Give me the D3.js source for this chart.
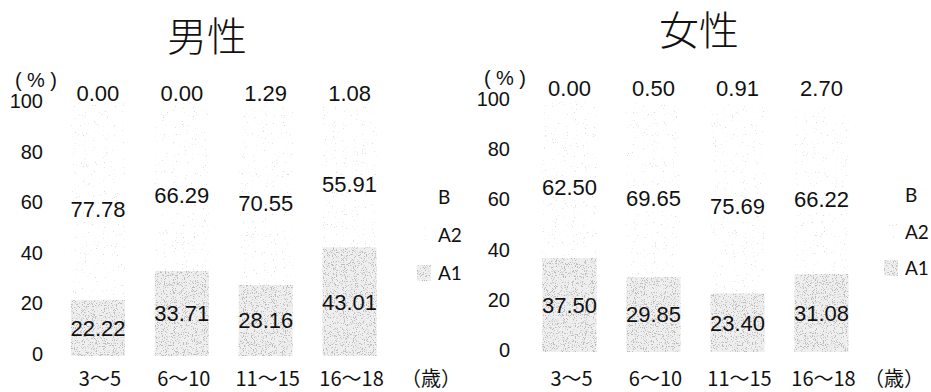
<!DOCTYPE html>
<html>
<head>
<meta charset="utf-8">
<script src="https://cdn.jsdelivr.net/npm/d3@7"></script>
<style>
  html, body { margin: 0; padding: 0; background: #fff; }
  svg { display: block; }
</style>
</head>
<body>
<svg id="chart" width="931" height="392"></svg>
<script>
// Age groups (x categories)
const ageGroups = ["3～5", "6～10", "11～15", "16～18"];

// Share (%) of each group by class, boys
const maleA1 = [22.22, 33.71, 28.16, 43.01];
const maleA2 = [77.78, 66.29, 70.55, 55.91];
const maleB  = [0.00, 0.00, 1.29, 1.08];

// Share (%) of each group by class, girls
const femaleA1 = [37.50, 29.85, 23.40, 31.08];
const femaleA2 = [62.50, 69.65, 75.69, 66.22];
const femaleB  = [0.00, 0.50, 0.91, 2.70];

const yTicks = [0, 20, 40, 60, 80, 100];
const seriesKeys = ["A1", "A2", "B"];
const legendOrder = ["B", "A2", "A1"];
const titles = ["男性", "女性"];

const svg = d3.select("#chart");
const defs = svg.append("defs");

// Speckled print textures
function grainFilter(id, gray, gain, offset, seed) {
  const f = defs.append("filter").attr("id", id)
    .attr("x", 0).attr("y", 0).attr("width", 1).attr("height", 1);
  f.append("feTurbulence").attr("type", "fractalNoise")
    .attr("baseFrequency", 0.9).attr("numOctaves", 2).attr("seed", seed)
    .attr("result", "noise");
  f.append("feColorMatrix").attr("in", "noise").attr("type", "matrix")
    .attr("values", `0 0 0 0 ${gray}  0 0 0 0 ${gray}  0 0 0 0 ${gray}  ${gain} 0 0 0 ${offset}`)
    .attr("result", "dots");
  f.append("feComposite").attr("in", "dots").attr("in2", "SourceAlpha")
    .attr("operator", "in").attr("result", "clipped");
  const m = f.append("feMerge");
  m.append("feMergeNode").attr("in", "SourceGraphic");
  m.append("feMergeNode").attr("in", "clipped");
}
grainFilter("grainA1", 0.5, 9, -5.0, 4);
grainFilter("grainA2", 0.7, 10, -7.0, 9);

const style = {
  A1: { fill: "#efefef", filter: "url(#grainA1)" },
  A2: { fill: "#ffffff", filter: "url(#grainA2)" },
  B:  { fill: "#ffffff", filter: null }
};

const latin = "'Liberation Sans', Arial, sans-serif";
const cjk = "'Noto Sans CJK JP', 'Noto Sans', sans-serif";

const panels = [
  {
    title: titles[0], data: { A1: maleA1, A2: maleA2, B: maleB },
    xRange: [56, 391.5], yRange: [356, 103], axisX: 43,
    titleX: 207, titleY: 51, pctX: 15, pctY: 87, topLabelY: 101,
    catY: 386, unitX: 431, legendX: 438, legendY: [197, 235, 273]
  },
  {
    title: titles[1], data: { A1: femaleA1, A2: femaleA2, B: femaleB },
    xRange: [527.5, 863.5], yRange: [352, 101], axisX: 510,
    titleX: 699, titleY: 45, pctX: 484, pctY: 85, topLabelY: 96,
    catY: 386, unitX: 894, legendX: 905, legendY: [195, 232, 268]
  }
];

panels.forEach(p => {
  const g = svg.append("g");

  const x = d3.scaleBand().domain(ageGroups).range(p.xRange)
    .paddingInner(0.356).paddingOuter(0.178);
  const y = d3.scaleLinear().domain([0, 100]).range(p.yRange);

  const rows = ageGroups.map((a, i) => ({
    age: a, A1: p.data.A1[i], A2: p.data.A2[i], B: p.data.B[i]
  }));
  const stacked = d3.stack().keys(seriesKeys)(rows);

  // Title
  g.append("text").attr("x", p.titleX).attr("y", p.titleY)
    .attr("text-anchor", "middle").attr("font-family", cjk)
    .attr("font-size", 40).attr("font-weight", 300)
    .attr("fill", "#111").text(p.title);

  // Stacked bars
  stacked.forEach(layer => {
    g.append("g").selectAll("rect").data(layer).join("rect")
      .attr("x", d => x(d.data.age))
      .attr("width", x.bandwidth())
      .attr("y", d => y(d[1]))
      .attr("height", d => Math.max(0, y(d[0]) - y(d[1])))
      .attr("fill", style[layer.key].fill)
      .attr("filter", style[layer.key].filter);
  });

  // Value labels
  const labelG = g.append("g").attr("font-family", latin)
    .attr("font-size", 22).attr("fill", "#111").attr("text-anchor", "middle");
  stacked.forEach(layer => {
    labelG.selectAll(null).data(layer).join("text")
      .attr("x", d => x(d.data.age) + x.bandwidth() / 2)
      .attr("y", d => {
        if (layer.key === "B") return p.topLabelY;
        const mid = y((d[0] + d[1]) / 2);
        return layer.key === "A2" ? mid + 8 : mid;
      })
      .attr("dy", layer.key === "B" ? null : "0.36em")
      .text(d => d.data[layer.key].toFixed(2));
  });

  // Y axis
  const axis = g.append("g").attr("transform", `translate(${p.axisX},0)`)
    .call(d3.axisLeft(y).tickValues(yTicks).tickSize(0).tickPadding(0));
  axis.select(".domain").remove();
  axis.selectAll("text").attr("font-family", latin).attr("font-size", 20)
    .attr("fill", "#111").attr("y", -2);

  g.append("text").attr("x", p.pctX).attr("y", p.pctY)
    .attr("font-family", latin).attr("font-size", 20).attr("fill", "#111")
    .attr("textLength", 42).text("(%)");

  // Category labels
  g.append("g").selectAll("text").data(ageGroups).join("text")
    .attr("x", d => x(d) + x.bandwidth() / 2 + 2)
    .attr("y", p.catY).attr("text-anchor", "middle")
    .attr("font-family", cjk).attr("font-size", 20).attr("fill", "#111")
    .text(d => d);
  g.append("text").attr("x", p.unitX).attr("y", p.catY)
    .attr("text-anchor", "middle").attr("font-family", cjk)
    .attr("font-size", 20).attr("fill", "#111").text("（歳）");

  // Legend
  const lg = g.append("g");
  legendOrder.forEach((k, i) => {
    lg.append("rect").attr("x", p.legendX - 21).attr("y", p.legendY[i] - 8)
      .attr("width", 14).attr("height", 16)
      .attr("fill", style[k].fill).attr("filter", style[k].filter);
    lg.append("text").attr("x", p.legendX).attr("y", p.legendY[i])
      .attr("dy", "0.36em").attr("font-family", "Lato, 'Open Sans', sans-serif")
      .attr("font-size", 19).attr("fill", "#111").text(k);
  });
});
</script>
</body>
</html>
